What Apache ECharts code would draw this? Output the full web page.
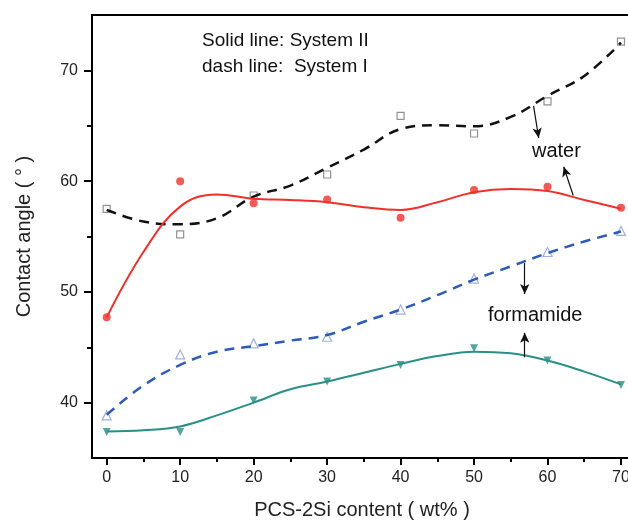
<!DOCTYPE html>
<html>
<head>
<meta charset="utf-8">
<script src="https://cdn.jsdelivr.net/npm/echarts@6/dist/echarts.min.js"></script>
<style>
  html, body { margin: 0; padding: 0; background: #fff; }
  #main { width: 628px; height: 520px; }
</style>
</head>
<body>
<div id="main"></div>
<script>
// measured points (wt% -> contact angle)
const xs = [0, 10, 20, 30, 40, 50, 60, 70];
const waterI = [57.5, 55.2, 58.7, 60.6, 65.9, 64.3, 67.2, 72.6];
const waterII = [47.7, 60.0, 58.0, 58.35, 56.7, 59.2, 59.5, 57.6];
const formI = [38.85, 44.35, 45.35, 45.95, 48.4, 51.2, 53.6, 55.5];
const formII = [37.35, 37.35, 40.2, 41.9, 43.4, 44.9, 43.8, 41.6];

// fitted curves every 5 wt%
const fitX = [0, 5, 10, 15, 20, 25, 30, 35, 40, 45, 50, 55, 60, 65, 70];
const waterIFit = [57.4, 56.35, 56.1, 56.65, 58.6, 59.6, 61.2, 62.85, 64.7, 65.05, 64.95, 65.8, 67.7, 69.5, 72.5];
const waterIIFit = [47.7, 53.6, 57.7, 58.8, 58.4, 58.3, 58.1, 57.65, 57.4, 58.1, 59.0, 59.3, 59.1, 58.3, 57.5];
const formIFit = [38.9, 41.55, 43.4, 44.6, 45.1, 45.6, 46.1, 47.3, 48.4, 49.7, 51.1, 52.3, 53.5, 54.55, 55.45];
const formIIFit = [37.4, 37.5, 37.85, 38.85, 40.0, 41.2, 41.9, 42.7, 43.5, 44.2, 44.6, 44.45, 43.8, 42.8, 41.65];

// ticks
const xMajor = [0, 10, 20, 30, 40, 50, 60, 70];
const xMinor = [5, 15, 25, 35, 45, 55, 65];
const yMajor = [40, 50, 60, 70];
const yMinor = [45, 55, 65];

const FONT = 'Liberation Sans, Arial, sans-serif';

function pairs(x, y) { return x.map((v, i) => [v, y[i]]); }

const chart = echarts.init(document.getElementById('main'));

const xBase = {
  type: 'value', min: -2, max: 71.5, position: 'bottom',
  splitLine: { show: false },
  axisLine: { onZero: false, lineStyle: { color: '#000', width: 2 } }
};
const yBase = {
  type: 'value', min: 35, max: 75, position: 'left',
  splitLine: { show: false },
  axisLine: { onZero: false, lineStyle: { color: '#000', width: 2 } }
};

function arrow(from, to) {
  return [
    { coord: from, symbol: 'none' },
    { coord: to, symbol: 'arrow', symbolSize: [7, 10] }
  ];
}

const option = {
  backgroundColor: '#fff',
  animation: false,
  grid: {
    left: 92, width: 540, top: 15, bottom: 62,
    outerBoundsMode: 'none',
    show: true, borderColor: '#000', borderWidth: 2
  },
  xAxis: [
    Object.assign({}, xBase, {
      name: 'PCS-2Si content ( wt% )',
      nameLocation: 'middle', nameGap: 42,
      nameTextStyle: { fontFamily: FONT, fontSize: 20, color: '#222' },
      axisTick: { customValues: xMajor, length: 7, lineStyle: { color: '#000', width: 2 } },
      axisLabel: { customValues: xMajor, margin: 12, fontFamily: FONT, fontSize: 16, color: '#222' }
    }),
    Object.assign({}, xBase, {
      axisTick: { customValues: xMinor, length: 4, lineStyle: { color: '#000', width: 2 } },
      axisLabel: { show: false }
    })
  ],
  yAxis: [
    Object.assign({}, yBase, {
      name: 'Contact angle ( ° )',
      nameLocation: 'middle', nameGap: 58,
      nameTextStyle: { fontFamily: FONT, fontSize: 20, color: '#222' },
      axisTick: { customValues: yMajor, length: 8, lineStyle: { color: '#000', width: 2 } },
      axisLabel: { customValues: yMajor, margin: 14, fontFamily: FONT, fontSize: 16, color: '#222' }
    }),
    Object.assign({}, yBase, {
      axisTick: { customValues: yMinor, length: 5, lineStyle: { color: '#000', width: 2 } },
      axisLabel: { show: false }
    })
  ],
  series: [
    {
      name: 'water System I fit', type: 'line', smooth: 0.4, showSymbol: false,
      data: pairs(fitX, waterIFit),
      lineStyle: { color: '#111', width: 2.5, type: [10, 7] },
      markLine: {
        silent: true, label: { show: false },
        lineStyle: { color: '#111', width: 1.2, type: 'solid' },
        data: [arrow([58.1, 66.8], [58.8, 63.9])]
      }
    },
    {
      name: 'water System II fit', type: 'line', smooth: 0.4, showSymbol: false,
      data: pairs(fitX, waterIIFit),
      lineStyle: { color: '#f0302a', width: 2 },
      markLine: {
        silent: true, label: { show: false },
        lineStyle: { color: '#111', width: 1.2, type: 'solid' },
        data: [arrow([63.5, 58.7], [62.2, 61.3])]
      }
    },
    {
      name: 'formamide System I fit', type: 'line', smooth: 0.4, showSymbol: false,
      data: pairs(fitX, formIFit),
      lineStyle: { color: '#2d5bb8', width: 2.5, type: [10, 7] },
      markLine: {
        silent: true, label: { show: false },
        lineStyle: { color: '#111', width: 1.2, type: 'solid' },
        data: [arrow([56.9, 52.6], [56.9, 49.8])]
      }
    },
    {
      name: 'formamide System II fit', type: 'line', smooth: 0.4, showSymbol: false,
      data: pairs(fitX, formIIFit),
      lineStyle: { color: '#2a8f87', width: 2 },
      markLine: {
        silent: true, label: { show: false },
        lineStyle: { color: '#111', width: 1.2, type: 'solid' },
        data: [arrow([56.9, 44.1], [56.9, 46.3])]
      }
    },
    {
      name: 'water System I', type: 'scatter', symbol: 'rect', symbolSize: 7,
      data: pairs(xs, waterI),
      itemStyle: { color: '#fff', borderColor: '#777', borderWidth: 1.2 }
    },
    {
      name: 'water System II', type: 'scatter', symbol: 'circle', symbolSize: 8,
      data: pairs(xs, waterII),
      itemStyle: { color: '#f0302a' }
    },
    {
      name: 'formamide System I', type: 'scatter', symbol: 'triangle', symbolSize: 9,
      data: pairs(xs, formI),
      itemStyle: { color: '#fff', borderColor: '#8a9be0', borderWidth: 1.2 }
    },
    {
      name: 'formamide System II', type: 'scatter', symbol: 'triangle', symbolRotate: 180, symbolSize: 8,
      data: pairs(xs, formII),
      itemStyle: { color: '#2a8f87' }
    }
  ],
  graphic: [
    { type: 'text', left: 202, top: 31, style: { text: 'Solid line: System II', font: '19px ' + FONT, fill: '#111' } },
    { type: 'text', left: 202, top: 57, style: { text: 'dash line:  System I', font: '19px ' + FONT, fill: '#111' } },
    { type: 'text', left: 532, top: 141, style: { text: 'water', font: '20px ' + FONT, fill: '#111' } },
    { type: 'text', left: 488, top: 305, style: { text: 'formamide', font: '20px ' + FONT, fill: '#111' } }
  ]
};

chart.setOption(option);
</script>
</body>
</html>
